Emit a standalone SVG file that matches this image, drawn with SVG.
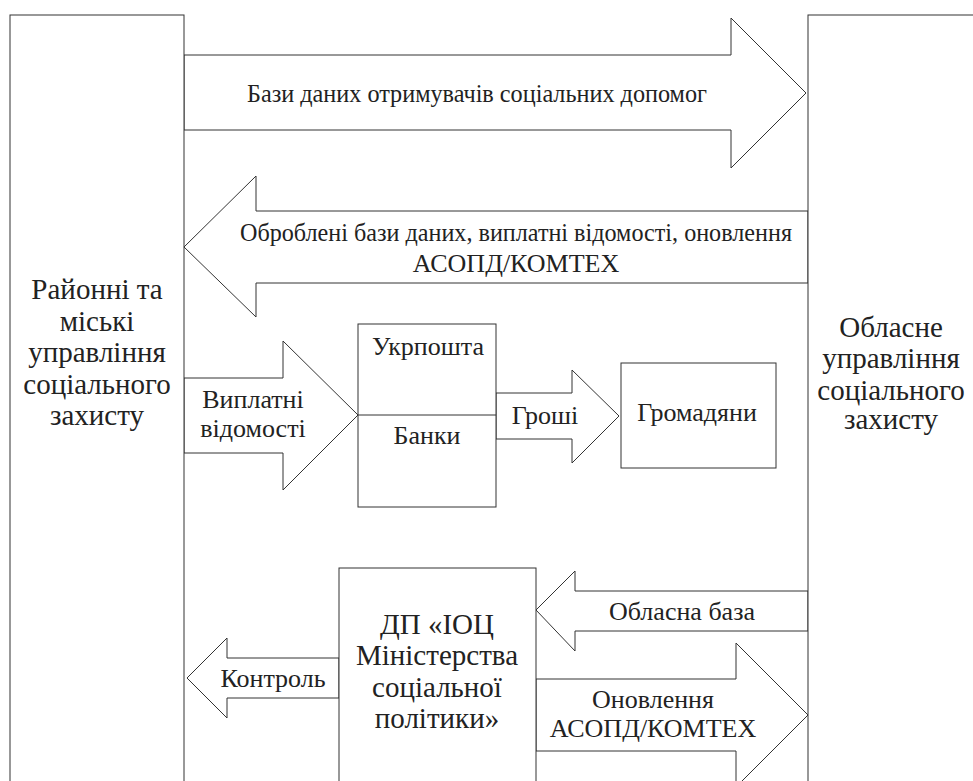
<svg xmlns="http://www.w3.org/2000/svg" width="973" height="781" viewBox="0 0 973 781" font-family="Liberation Serif, serif">
<rect width="973" height="781" fill="#fff"/>
<g id="connectors" fill="#fff" stroke="#333" stroke-width="1">
<polygon id="a1" points="184,55 731,55 731,18 806,93 731,168 731,130 184,130"/>
<polygon id="a2" points="808,211 256,211 256,176 184,247 256,317 256,283 808,283"/>
<polygon id="a3" points="184,378 283,378 283,341 358,415 283,490 283,453 184,453"/>
<polygon id="a4" points="496,393 572,393 572,370 619,416 572,463 572,439 496,439"/>
<polygon id="a5" points="339,658 227,658 227,638 187,678 227,718 227,698 339,698"/>
<polygon id="a6" points="808,591 575,591 575,571 536,610 575,651 575,631 808,631"/>
<polygon id="a7" points="536,679 736,679 736,643 808,715 736,787 736,751 536,751"/>
</g>
<g id="left">
<rect x="10" y="15" width="174" height="790" fill="#fff" stroke="#333"/>
<text style="font-family:'Liberation Serif',serif !important" font-family="Liberation Serif" font-size="29" fill="#222" text-anchor="middle" x="97" y="299">Районні та</text>
<text style="font-family:'Liberation Serif',serif !important" font-family="Liberation Serif" font-size="29" fill="#222" text-anchor="middle" x="97" y="331">міські</text>
<text style="font-family:'Liberation Serif',serif !important" font-family="Liberation Serif" font-size="29" fill="#222" text-anchor="middle" x="97" y="362">управління</text>
<text style="font-family:'Liberation Serif',serif !important" font-family="Liberation Serif" font-size="29" fill="#222" text-anchor="middle" x="97" y="394">соціального</text>
<text style="font-family:'Liberation Serif',serif !important" font-family="Liberation Serif" font-size="29" fill="#222" text-anchor="middle" x="97" y="425">захисту</text>
</g>
<g id="right">
<rect x="808" y="15" width="180" height="790" fill="#fff" stroke="#333"/>
<text style="font-family:'Liberation Serif',serif !important" font-family="Liberation Serif" font-size="29" fill="#222" text-anchor="middle" x="891" y="337">Обласне</text>
<text style="font-family:'Liberation Serif',serif !important" font-family="Liberation Serif" font-size="29" fill="#222" text-anchor="middle" x="891" y="368">управління</text>
<text style="font-family:'Liberation Serif',serif !important" font-family="Liberation Serif" font-size="29" fill="#222" text-anchor="middle" x="891" y="400">соціального</text>
<text style="font-family:'Liberation Serif',serif !important" font-family="Liberation Serif" font-size="29" fill="#222" text-anchor="middle" x="891" y="429">захисту</text>
</g>
<g id="bank">
<rect x="358" y="324" width="138" height="183" fill="#fff" stroke="#333"/>
<line x1="358" y1="415" x2="496" y2="415" stroke="#333"/>
<text style="font-family:'Liberation Serif',serif !important" font-family="Liberation Serif" font-size="26" fill="#222" text-anchor="middle" x="428" y="355">Укрпошта</text>
<text style="font-family:'Liberation Serif',serif !important" font-family="Liberation Serif" font-size="26" fill="#222" text-anchor="middle" x="427" y="444">Банки</text>
</g>
<g id="citizens">
<rect x="621" y="363" width="155" height="105" fill="#fff" stroke="#333"/>
<text style="font-family:'Liberation Serif',serif !important" font-family="Liberation Serif" font-size="26" fill="#222" text-anchor="middle" x="697" y="421">Громадяни</text>
</g>
<g id="dp">
<rect x="339" y="568" width="197" height="240" fill="#fff" stroke="#333"/>
<text style="font-family:'Liberation Serif',serif !important" font-family="Liberation Serif" font-size="29" fill="#222" text-anchor="middle" x="437" y="634">ДП «ІОЦ</text>
<text style="font-family:'Liberation Serif',serif !important" font-family="Liberation Serif" font-size="29" fill="#222" text-anchor="middle" x="437" y="665">Міністерства</text>
<text style="font-family:'Liberation Serif',serif !important" font-family="Liberation Serif" font-size="29" fill="#222" text-anchor="middle" x="437" y="697">соціальної</text>
<text style="font-family:'Liberation Serif',serif !important" font-family="Liberation Serif" font-size="29" fill="#222" text-anchor="middle" x="437" y="728">політики»</text>
</g>
<g id="labels">
<text style="font-family:'Liberation Serif',serif !important" font-family="Liberation Serif" font-size="26" fill="#222" text-anchor="middle" x="477" y="102" textLength="460" lengthAdjust="spacingAndGlyphs">Бази даних отримувачів соціальних допомог</text>
<text style="font-family:'Liberation Serif',serif !important" font-family="Liberation Serif" font-size="26" fill="#222" text-anchor="middle" x="516" y="241" textLength="552" lengthAdjust="spacingAndGlyphs">Оброблені бази даних, виплатні відомості, оновлення</text>
<text style="font-family:'Liberation Serif',serif !important" font-family="Liberation Serif" font-size="26" fill="#222" text-anchor="middle" x="516" y="272">АСОПД/КОМТЕХ</text>
<text style="font-family:'Liberation Serif',serif !important" font-family="Liberation Serif" font-size="26" fill="#222" text-anchor="middle" x="253" y="408">Виплатні</text>
<text style="font-family:'Liberation Serif',serif !important" font-family="Liberation Serif" font-size="26" fill="#222" text-anchor="middle" x="253" y="437">відомості</text>
<text style="font-family:'Liberation Serif',serif !important" font-family="Liberation Serif" font-size="26" fill="#222" text-anchor="middle" x="545" y="424">Гроші</text>
<text style="font-family:'Liberation Serif',serif !important" font-family="Liberation Serif" font-size="26" fill="#222" text-anchor="middle" x="273" y="687">Контроль</text>
<text style="font-family:'Liberation Serif',serif !important" font-family="Liberation Serif" font-size="26" fill="#222" text-anchor="middle" x="682" y="620">Обласна база</text>
<text style="font-family:'Liberation Serif',serif !important" font-family="Liberation Serif" font-size="26" fill="#222" text-anchor="middle" x="653" y="708">Оновлення</text>
<text style="font-family:'Liberation Serif',serif !important" font-family="Liberation Serif" font-size="26" fill="#222" text-anchor="middle" x="653" y="737">АСОПД/КОМТЕХ</text>
</g>
</svg>
